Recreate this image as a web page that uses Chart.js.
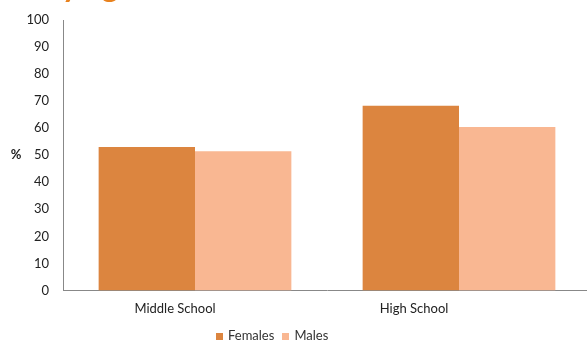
<!DOCTYPE html>
<html>
<head>
<meta charset="utf-8">
<script src="https://cdn.jsdelivr.net/npm/chart.js@4"></script>
<style>
    body { margin: 0; overflow: hidden; background: #fff; }
    #wrap { position: relative; width: 592px; height: 342px; }
    #title {
        position: absolute; left: 44px; top: -35px;
        font: bold 32px Lato, sans-serif; color: #E8821E; white-space: nowrap;
        word-spacing: 16px;
    }
    #legend {
        position: absolute; left: 216px; top: 327px;
        font: 13px Lato, sans-serif; color: #333; white-space: nowrap;
    }
    #legend span.box { display: inline-block; width: 7px; height: 7px; margin-right: 5px; }
    #legend span.item { margin-right: 8px; }
</style>
</head>
<body>
<div id="wrap">
    <div id="title">by gender</div>
    <canvas id="myChart" width="592" height="342"></canvas>
    <div id="legend"></div>
</div>
<script>
const categories = ['Middle School', 'High School'];
const females = [53.0, 68.3];
const males = [51.5, 60.4];
const yTicks = [0, 10, 20, 30, 40, 50, 60, 70, 80, 90, 100];

// how far each category label sits left of its bar group (in spaces)
const labelShift = [12, 27];

const percentLabel = {
    id: 'percentLabel',
    afterDraw(chart) {
        const ctx = chart.ctx;
        const y = chart.scales.y;
        ctx.save();
        ctx.font = 'bold 13px Lato, sans-serif';
        ctx.fillStyle = '#222';
        ctx.textAlign = 'center';
        ctx.textBaseline = 'middle';
        ctx.fillText('%', 16, (y.top + y.bottom) / 2);
        ctx.restore();
    }
};

let ctx = document.getElementById('myChart').getContext('2d');
let myChart = new Chart(ctx, {
    type: 'bar',
    data: {
        labels: categories,
        datasets: [{
            label: 'Females',
            data: females,
            backgroundColor: '#DC853F',
            categoryPercentage: 0.73,
            barPercentage: 1
        }, {
            label: 'Males',
            data: males,
            backgroundColor: '#F9B792',
            categoryPercentage: 0.73,
            barPercentage: 1
        }]
    },
    options: {
        responsive: false,
        animation: false,
        layout: { padding: { top: 20, right: 1, bottom: 14, left: 0 } },
        plugins: {
            legend: { display: false },
            tooltip: { enabled: false }
        },
        scales: {
            x: {
                grid: { display: false, drawTicks: false },
                border: { color: '#888', width: 1 },
                ticks: {
                    color: '#222',
                    font: { family: 'Lato', size: 13 },
                    padding: 11,
                    callback: function (v, i) {
                        return this.getLabelForValue(v) + ' '.repeat(labelShift[i]);
                    }
                }
            },
            y: {
                min: 0,
                max: 100,
                afterFit: s => { s.width = 63; s.paddingTop = 0; },
                afterBuildTicks: s => { s.ticks = yTicks.map(v => ({ value: v })); },
                grid: { display: false, drawTicks: false },
                border: { color: '#888', width: 1 },
                ticks: {
                    color: '#222',
                    font: { family: 'Lato', size: 13 },
                    padding: 14
                }
            }
        }
    },
    plugins: [percentLabel]
});

let legend = document.getElementById('legend');
myChart.data.datasets.forEach(ds => {
    legend.insertAdjacentHTML('beforeend',
        `<span class="item"><span class="box" style="background:${ds.backgroundColor}"></span>${ds.label}</span>`);
});
</script>
</body>
</html>
